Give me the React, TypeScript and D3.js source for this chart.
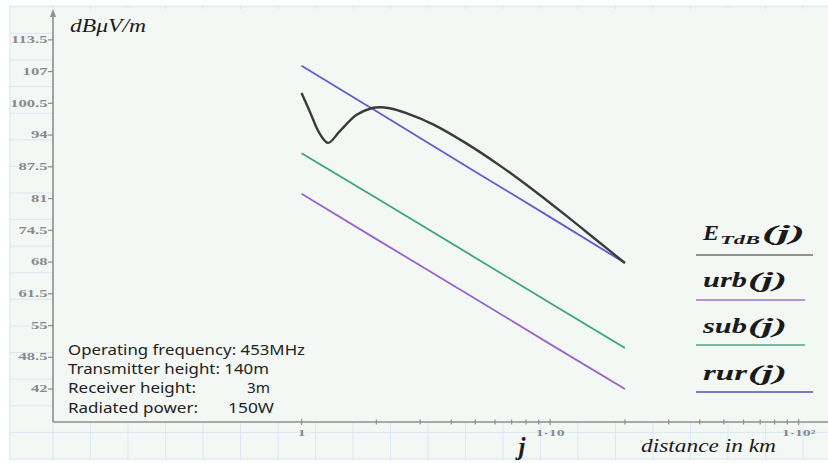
import React from "react";
import * as d3 from "d3";

// distances (km) and field strengths (dBµV/m)
const eDist = [1, 1.08, 1.18, 1.28, 1.42, 1.66, 1.91, 2.06, 2.26, 2.64, 3.38, 4.6, 6.26, 8.53, 11.6, 15.8, 20];
const eTdB = [102.6, 98.8, 94.4, 92.4, 94.7, 98.1, 99.5, 99.7, 99.5, 98.5, 96.2, 92.3, 87.8, 82.8, 77.5, 72.0, 67.8];

const lineDist = [1, 2, 5, 10, 20];
const urb = [82.0, 72.7, 60.5, 51.2, 42.0];
const sub = [90.3, 81.1, 68.9, 59.6, 50.4];
const rur = [108.2, 98.9, 86.5, 77.2, 67.8];

const yTicks = [42, 48.5, 55, 61.5, 68, 74.5, 81, 87.5, 94, 100.5, 107, 113.5];
const xMajor = [1, 10, 100];
const xMajorLabels = ["1", "1·10", "1·10²"];
const xMinor = [2, 3, 4, 5, 6, 7, 8, 9, 20, 30, 40, 50, 60, 70, 80, 90];

const infoLines = [
  ["Operating frequency: 453MHz", ""],
  ["Transmitter height: 140m", ""],
  ["Receiver height:", "3m"],
  ["Radiated power:", "150W"],
];

const W = 828;
const H = 463;
const BG = "#f3f8f5";
const GRID = "#d9e7f6";
const AXIS = "#8e8e8e";
const serif = "'Liberation Serif', 'DejaVu Serif', serif";

const App = () => {
  const x = d3.scaleLog().domain([0.1, 130]).range([53, 827]);
  const y = d3.scaleLinear().domain([35.25, 119]).range([422, 13]);

  const smooth = d3
    .line<[number, number]>()
    .x((d) => x(d[0]))
    .y((d) => y(d[1]))
    .curve(d3.curveCatmullRom.alpha(0.5));
  const ePath = smooth(eDist.map((d, i) => [d, eTdB[i]]) as [number, number][]) || "";
  const straight = d3
    .line<[number, number]>()
    .x((d) => x(d[0]))
    .y((d) => y(d[1]));
  const mk = (vals: number[]) => straight(lineDist.map((d, i) => [d, vals[i]]) as [number, number][]) || "";

  // background grid (only visible in the margins)
  const gridX: number[] = [10];
  for (let gx = 53; gx < W; gx += 37.5) gridX.push(gx);
  const gridY: number[] = [];
  for (let gy = 6.8; gy < 462; gy += 26.6) gridY.push(gy);

  const legend = [
    { name: "E", sub: "TdB", nameW: 16, argX: 762, argW: 43, base: 240, ly: 255, lx2: 813, col: "#707070" },
    { name: "urb", sub: "", nameW: 44, argX: 748, argW: 39, base: 287, ly: 300, lx2: 805, col: "#a275d3" },
    { name: "sub", sub: "", nameW: 44, argX: 748, argW: 39, base: 333, ly: 345, lx2: 805, col: "#44aa82" },
    { name: "rur", sub: "", nameW: 44, argX: 748, argW: 39, base: 380, ly: 392, lx2: 813, col: "#4b4fae" },
  ];

  return (
    <svg width={W} height={H} style={{ position: "absolute", left: 0, top: 0 }}>
      <rect x={0} y={0} width={W} height={H} fill="#ffffff" />
      <rect x={9} y={5} width={W - 9} height={455} fill={BG} />
      <g stroke={GRID} strokeWidth={1}>
        {gridX.map((gx) => (
          <line key={"gx" + gx} x1={gx} x2={gx} y1={5} y2={460} />
        ))}
        {gridY.map((gy) => (
          <line key={"gy" + gy} x1={9} x2={W} y1={gy} y2={gy} />
        ))}
      </g>
      <rect x={53} y={9} width={W - 53} height={413} fill={BG} />

      {/* axes */}
      <line x1={53} x2={53} y1={14} y2={422} stroke={AXIS} strokeWidth={1.6} />
      <path d="M53,9 L50,17 L56,17 Z" fill={AXIS} />
      <line x1={53} x2={W} y1={422} y2={422} stroke={AXIS} strokeWidth={1.6} />

      {yTicks.map((t) => (
        <g key={"yt" + t}>
          <line x1={48} x2={53} y1={y(t)} y2={y(t)} stroke={AXIS} strokeWidth={1.2} />
          <text
            transform={`translate(47.5,${y(t) + 3.2}) scale(1.75,1)`}
            textAnchor="end"
            fontFamily={serif}
            fontWeight="bold"
            fontSize={9.5}
            fill="#8a8a8a"
          >
            {t}
          </text>
        </g>
      ))}

      {xMinor.map((t) => (
        <line key={"xm" + t} x1={x(t)} x2={x(t)} y1={419.5} y2={424.5} stroke={AXIS} strokeWidth={1.2} />
      ))}
      {xMajor.map((t, i) => (
        <g key={"xM" + t}>
          <line x1={x(t)} x2={x(t)} y1={419} y2={425} stroke={AXIS} strokeWidth={1.2} />
          <text
            transform={`translate(${x(t)},436) scale(1.75,1)`}
            textAnchor="middle"
            fontFamily={serif}
            fontWeight="bold"
            fontSize={9}
            fill="#8a8a8a"
          >
            {xMajorLabels[i]}
          </text>
        </g>
      ))}

      {/* titles */}
      <text x={70} y={32} fontFamily={serif} fontStyle="italic" fontSize={18} fill="#1c1c1c" textLength={76} lengthAdjust="spacingAndGlyphs">
        dBμV/m
      </text>
      <text x={641} y={452} fontFamily={serif} fontStyle="italic" fontSize={18} fill="#1c1c1c" textLength={135} lengthAdjust="spacingAndGlyphs">
        distance in km
      </text>
      <text x={522} y={455} textAnchor="middle" fontFamily={serif} fontStyle="italic" fontWeight="bold" fontSize={25} fill="#1c1c1c">
        j
      </text>

      {/* series */}
      <path d={mk(urb)} fill="none" stroke="#9b64cb" strokeWidth={1.8} />
      <path d={mk(sub)} fill="none" stroke="#3ca67b" strokeWidth={1.8} />
      <path d={mk(rur)} fill="none" stroke="#5b5fca" strokeWidth={1.8} />
      <path d={ePath} fill="none" stroke="#3b3b3b" strokeWidth={2.4} strokeLinejoin="round" />

      {/* legend */}
      {legend.map((l) => (
        <g key={l.name}>
          <text x={703} y={l.base} fontFamily={serif} fontStyle="italic" fontWeight="bold" fontSize={21} fill="#1a1a1a" textLength={l.nameW} lengthAdjust="spacingAndGlyphs">
            {l.name}
          </text>
          {l.sub && (
            <text x={720} y={l.base + 4} fontFamily={serif} fontStyle="italic" fontWeight="bold" fontSize={12} fill="#1a1a1a" textLength={40} lengthAdjust="spacingAndGlyphs">
              {l.sub}
            </text>
          )}
          <text x={l.argX} y={l.base} fontFamily={serif} fontStyle="italic" fontWeight="bold" fontSize={21} fill="#1a1a1a" textLength={l.argW} lengthAdjust="spacingAndGlyphs">
            (j)
          </text>
          <line x1={696} x2={l.lx2} y1={l.ly} y2={l.ly} stroke={l.col} strokeWidth={1.6} />
        </g>
      ))}

      {/* info text */}
      {infoLines.map((ln, i) => {
        const by = 355 + i * 19.2;
        const widths = [237, 201, 128, 130];
        return (
          <g key={"info" + i} fontFamily="'Noto Sans', 'Open Sans', sans-serif" fontSize={15} fill="#222">
            <text x={68} y={by} textLength={widths[i]} lengthAdjust="spacingAndGlyphs">
              {ln[0]}
            </text>
            {ln[1] && (
              <text x={i === 2 ? 247 : 228} y={by} textLength={i === 2 ? 23 : 46} lengthAdjust="spacingAndGlyphs">
                {ln[1]}
              </text>
            )}
          </g>
        );
      })}
    </svg>
  );
};

export default App;
